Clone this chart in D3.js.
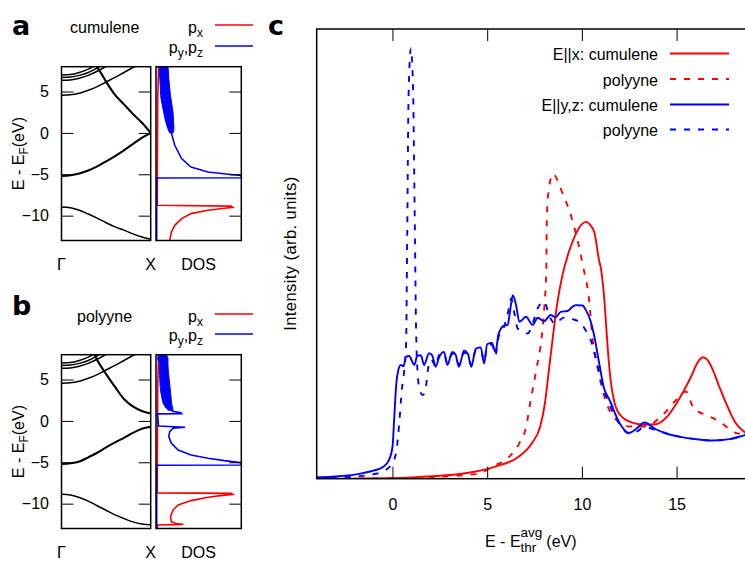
<!DOCTYPE html>
<html>
<head>
<meta charset="utf-8">
<script src="https://cdn.jsdelivr.net/npm/d3@7"></script>
<style>
  body { margin: 0; background: #fff; }
  text { font-family: "Liberation Sans", Arial, sans-serif; fill: #000; }
</style>
</head>
<body>
<svg width="745" height="561"></svg>
<script>
// ---- band structures: [k (Gamma=0 .. X=1), E - EF]
const cumuleneSigma = [[0,-8.95],[.1,-9.05],[.2,-9.35],[.3,-9.8],[.4,-10.3],[.5,-10.85],[.6,-11.35],[.7,-11.75],[.8,-12.2],[.9,-12.58],[1,-12.85]];
const cumulenePi = [[0,-5.2],[.1,-5.12],[.2,-4.9],[.3,-4.55],[.4,-4.05],[.5,-3.45],[.6,-2.8],[.7,-2.1],[.8,-1.35],[.9,-0.6],[1,0]];
const cumulenePiStar = [[.38,8.3],[.4,7.95],[.45,7.1],[.5,6.2],[.6,4.6],[.7,3.45],[.8,2.3],[.9,1.25],[1,0]];
const cumuleneUpper = [
  [[0,4.55],[.1,4.6],[.2,4.8],[.3,5.15],[.4,5.6],[.5,6.15],[.6,6.7],[.7,7.3],[.8,7.9],[.85,8.2]],
  [[0,6.35],[.1,6.4],[.2,6.6],[.3,6.95],[.4,7.45],[.5,8.05],[.55,8.4]],
  [[0,6.7],[.1,6.75],[.2,6.95],[.3,7.3],[.4,7.85],[.45,8.2]],
  [[0,7.0],[.1,7.05],[.2,7.3],[.3,7.7],[.37,8.1]]
];
const polyyneSigma = [[0,-8.85],[.1,-8.95],[.2,-9.25],[.3,-9.7],[.4,-10.25],[.5,-10.8],[.6,-11.35],[.7,-11.8],[.8,-12.2],[.9,-12.45],[1,-12.55]];
const polyynePi = [[0,-5.2],[.1,-5.12],[.2,-4.9],[.3,-4.4],[.4,-3.85],[.5,-3.2],[.6,-2.6],[.7,-2.05],[.8,-1.45],[.9,-0.95],[1,-0.7]];
const polyynePiStar = [[.34,8.4],[.37,8.0],[.4,7.35],[.5,5.65],[.6,4.1],[.7,2.65],[.8,1.75],[.9,1.2],[1,0.9]];
const polyyneUpper = cumuleneUpper;

// ---- projected DOS: [E, DOS]
const cumuleneDosPx = [[8,0.03],[4,0.02],[-8.75,0.015],[-8.85,0.88],[-9.0,0.9],[-9.1,0.8],[-9.35,0.61],[-9.75,0.41],[-10.36,0.3],[-11.17,0.22],[-11.97,0.18],[-13,0.16]];
const cumuleneDosPyz = [[-13,0.008],[-5.45,0.008],[-5.42,1.0],[-5.15,1.0],[-5.0,0.85],[-4.72,0.61],[-4.12,0.41],[-3.1,0.3],[-1.5,0.22],[0,0.18]];
const cumuleneDosPyzBand = [[0,0.16,0.2],[0.5,0.14,0.21],[1.5,0.11,0.205],[2.5,0.09,0.2],[3.5,0.07,0.185],[4.5,0.055,0.17],[5.5,0.05,0.16],[6.5,0.045,0.15],[7.5,0.04,0.145],[8,0.04,0.14]];
const polyyneDosPx = [[8,0.03],[4,0.02],[-8.7,0.015],[-8.75,0.88],[-8.88,0.9],[-9.0,0.78],[-9.23,0.61],[-9.63,0.41],[-10.16,0.26],[-10.76,0.2],[-11.57,0.17],[-12.17,0.18],[-12.4,0.23],[-12.5,0.32],[-12.58,0.02],[-13,0.015]];
const polyyneDosPyz = [[-13,0.008],[-5.35,0.008],[-5.32,1.0],[-5.04,1.0],[-4.8,0.8],[-4.52,0.61],[-4.12,0.41],[-3.51,0.26],[-2.7,0.18],[-1.9,0.15],[-1.29,0.16],[-0.89,0.2],[-0.77,0.34],[-0.62,0.03],[0.85,0.015],[0.88,0.3],[1.0,0.29],[1.15,0.2],[1.3,0.17]];
const polyyneDosPyzBand = [[1.3,0.14,0.2],[2,0.09,0.185],[3,0.065,0.175],[4,0.05,0.165],[5,0.045,0.155],[6,0.04,0.145],[7,0.04,0.14],[7.5,0.02,0.14],[8,0.03,0.12]];

// ---- absorption spectra: [E - Ethr, intensity]
const specXCumulene = [[-4,0],[0,0.1],[1.9,0.5],[3.84,1.2],[5.43,2.7],[6.66,4.9],[7.36,7.9],[7.8,11.6],[8.05,16.8],[8.26,24.2],[8.47,31.6],[8.7,39],[8.96,45],[9.35,50.9],[9.7,54.6],[10.0,56.6],[10.23,57.1],[10.45,56.4],[10.67,54.6],[10.9,48.7],[11.02,46.4],[11.2,39],[11.32,31.6],[11.46,24.2],[11.73,16.8],[12.08,13.9],[12.7,12.4],[13.3,12],[13.9,12.1],[14.5,13.8],[15,16.8],[15.5,20.5],[15.8,23],[16.1,25.8],[16.4,27],[16.65,26.3],[16.9,24.3],[17.25,20.5],[17.6,16.9],[18.1,12.5],[18.6,10.3],[19.3,8.3],[20,7]];
const specXPolyyne = [[-4,0],[0,0.1],[2,0.3],[3.5,0.7],[4.59,1.2],[5.29,2.7],[6.17,4.9],[6.7,7.9],[7.06,11.6],[7.27,16.8],[7.59,24.2],[7.88,31.6],[8.03,39],[8.12,46.4],[8.15,58.3],[8.25,64.2],[8.47,67.8],[8.7,66.5],[8.91,64.2],[9.44,58.3],[10.05,47.5],[10.4,39],[10.55,31.6],[10.85,24.2],[11.3,16.8],[11.65,13.9],[12.5,11.6],[13.3,11.6],[14.2,13.9],[15,17.6],[15.5,19.4],[15.9,15.6],[16.6,14.1],[17.3,12.6],[18,10.4],[18.6,9.7],[19.3,8.5],[20,7.5]];
const specYZCumulene = [[-4,0.3],[-3,0.5],[-2,0.9],[-1.5,1.3],[-1,1.8],[-0.5,2.6],[-0.2,4.0],[0,7],[0.1,14],[0.2,21],[0.3,24],[0.44,25.3],[0.58,25],[0.71,27.1],[0.88,27.3],[1.15,25.3],[1.32,27.4],[1.5,27.4],[1.67,25.3],[1.93,27.9],[2.1,27.4],[2.28,24.9],[2.46,27],[2.72,28.2],[2.9,25.3],[3.16,28.2],[3.33,27.6],[3.51,24.9],[3.78,28.5],[3.98,27.8],[4.16,24.9],[4.4,28.9],[4.66,29.2],[4.84,25.6],[5.0,29.9],[5.25,30.2],[5.44,28.2],[5.6,32.2],[5.87,34],[6.08,34.2],[6.2,37],[6.35,40.8],[6.52,38.7],[6.7,34.9],[7.05,36],[7.4,34.2],[7.67,35.8],[8.0,35],[8.35,36.4],[8.62,35.9],[8.88,37.1],[9.24,37.3],[9.5,38.2],[9.68,38.6],[10.03,38.5],[10.2,37.6],[10.47,34.9],[10.64,32],[10.9,26],[11.17,20.1],[11.46,17.5],[12.0,12.3],[12.5,10.2],[12.9,11.2],[13.3,12.5],[13.9,11],[14.5,10],[15.2,9.3],[16,8.8],[16.9,8.5],[17.8,8.8],[18.6,9.7],[20,11]];
const specYZPolyyne = [[-4,0.2],[-2,0.5],[-1,1.0],[-0.5,1.6],[0,3.5],[0.2,6],[0.35,12],[0.5,20],[0.62,24],[0.72,30],[0.78,55],[0.85,85],[0.97,95.7],[1.08,88],[1.17,60],[1.24,35],[1.32,24],[1.45,19.5],[1.6,18.6],[1.75,20],[1.9,25],[2.05,26.5],[2.28,25],[2.46,27.5],[2.72,27.8],[2.9,25.6],[3.16,27.8],[3.35,27],[3.51,25.3],[3.78,28],[3.98,27.5],[4.16,25.3],[4.4,28.5],[4.66,28.6],[4.84,26],[5.0,29.5],[5.25,29.8],[5.44,27.5],[5.6,31.5],[5.87,33.5],[6.1,37],[6.26,40],[6.45,36.5],[6.61,33.4],[6.9,32.8],[7.14,32.3],[7.4,34.5],[7.67,37.9],[8.0,39.4],[8.3,36],[8.62,34.4],[8.9,35.5],[9.15,35.9],[9.5,35.5],[9.77,35.1],[10.0,34.3],[10.2,33],[10.56,29.7],[10.82,25.3],[11.1,20.5],[11.4,17],[11.9,12.8],[12.5,10],[12.9,10.5],[13.3,11.5],[13.9,10.8],[14.5,10],[15.2,9.3],[16,8.8],[16.9,8.5],[17.8,8.8],[18.6,9.7],[20,11]];

const energyTicks = [-10, -5, 0, 5];
const spectrumTicks = [0, 5, 10, 15];
const legendLabels = ['E||x: cumulene', 'polyyne', 'E||y,z: cumulene', 'polyyne'];

(function() {
	const svg = d3.select('svg');
	const RED = '#ff0000';
	const BLUE = '#0000ff';

	// ----- panels a and b
	const bandLeft = 61.5, bandRight = 150.7, dosLeft = 156, dosRight = 241.3;
	const panelH = 173.8;

	function drawBandPanel(top, id, bands, thickBands, dosPx, dosPyz, dosBand) {
		const g = svg.append('g');
		const y = d3.scaleLinear().domain([-13, 8]).range([top + panelH, top]);
		const k = d3.scaleLinear().domain([0, 1]).range([bandLeft, bandRight]);
		const dos = d3.scaleLinear().domain([0, 1]).range([dosLeft, dosRight]);

		svg.append('clipPath').attr('id', 'band' + id)
			.append('rect').attr('x', bandLeft).attr('y', top).attr('width', bandRight - bandLeft).attr('height', panelH);
		svg.append('clipPath').attr('id', 'dos' + id)
			.append('rect').attr('x', dosLeft).attr('y', top).attr('width', dosRight - dosLeft + 4).attr('height', panelH);

		const bandLine = d3.line().x(d => k(d[0])).y(d => y(d[1])).curve(d3.curveMonotoneX);
		const bg = g.append('g').attr('clip-path', `url(#band${id})`);
		bg.selectAll('path.thin').data(bands).join('path')
			.attr('d', bandLine).attr('fill', 'none').attr('stroke', '#000').attr('stroke-width', 1.5);
		bg.selectAll('path.thick').data(thickBands).join('path')
			.attr('d', bandLine).attr('fill', 'none').attr('stroke', '#000').attr('stroke-width', 2.1);

		const dg = g.append('g').attr('clip-path', `url(#dos${id})`);
		const dosLine = d3.line().x(d => dos(d[1])).y(d => y(d[0]));
		dg.append('path').attr('d', dosLine(dosPx)).attr('fill', 'none').attr('stroke', RED).attr('stroke-width', 1.6);
		dg.append('path').attr('d', dosLine(dosPyz)).attr('fill', 'none').attr('stroke', BLUE).attr('stroke-width', 1.6);
		dg.append('path')
			.attr('d', d3.area().y(d => y(d[0])).x0(d => dos(d[1])).x1(d => dos(d[2])).curve(d3.curveMonotoneY)(dosBand))
			.attr('fill', BLUE).attr('stroke', BLUE).attr('stroke-width', 1);

		// frames
		g.append('rect').attr('x', bandLeft).attr('y', top).attr('width', bandRight - bandLeft).attr('height', panelH)
			.attr('fill', 'none').attr('stroke', '#000').attr('stroke-width', 1.5);
		g.append('rect').attr('x', dosLeft).attr('y', top).attr('width', dosRight - dosLeft).attr('height', panelH)
			.attr('fill', 'none').attr('stroke', '#000').attr('stroke-width', 1.5);

		// ticks
		g.append('g').attr('transform', `translate(${bandLeft},0)`)
			.call(d3.axisLeft(y).tickValues(energyTicks).tickSize(-12).tickPadding(12.5))
			.call(a => a.select('.domain').remove())
			.call(a => a.selectAll('text').style('font-size', '16px').style('font-family', '"Liberation Sans", Arial, sans-serif'));
		g.append('g').attr('transform', `translate(${bandRight},0)`)
			.call(d3.axisRight(y).tickValues(energyTicks).tickSize(-12).tickFormat(''))
			.call(a => a.select('.domain').remove());
		g.append('g').attr('transform', `translate(${dosRight},0)`)
			.call(d3.axisRight(y).tickValues(energyTicks).tickSize(-12).tickFormat(''))
			.call(a => a.select('.domain').remove());

		// y label
		const yl = g.append('text')
			.attr('transform', `translate(24,${top + panelH / 2}) rotate(-90)`)
			.attr('text-anchor', 'middle').style('font-size', '16px');
		yl.append('tspan').text('E - E');
		yl.append('tspan').attr('dy', 4).style('font-size', '12px').text('F');
		yl.append('tspan').attr('dy', -4).text('(eV)');

		// k labels
		const kb = top + 203;
		g.append('text').attr('x', bandLeft).attr('y', kb).attr('text-anchor', 'middle').style('font-size', '16px').text('Γ');
		g.append('text').attr('x', bandRight).attr('y', kb).attr('text-anchor', 'middle').style('font-size', '16px').text('X');
		g.append('text').attr('x', (dosLeft + dosRight) / 2).attr('y', kb).attr('text-anchor', 'middle').style('font-size', '16px').text('DOS');
		return g;
	}

	function drawDosLegend(g, yPx, yPyz) {
		const t1 = g.append('text').attr('x', 203).attr('y', yPx).attr('text-anchor', 'end').style('font-size', '16px');
		t1.append('tspan').text('p');
		t1.append('tspan').attr('dy', 4).style('font-size', '12px').text('x');
		g.append('line').attr('x1', 215).attr('x2', 253).attr('y1', yPx - 8).attr('y2', yPx - 8)
			.attr('stroke', RED).attr('stroke-width', 1.6);
		const t2 = g.append('text').attr('x', 203).attr('y', yPyz).attr('text-anchor', 'end').style('font-size', '16px');
		t2.append('tspan').text('p');
		t2.append('tspan').attr('dy', 4).style('font-size', '12px').text('y');
		t2.append('tspan').attr('dy', -4).text(',p');
		t2.append('tspan').attr('dy', 4).style('font-size', '12px').text('z');
		g.append('line').attr('x1', 215).attr('x2', 253).attr('y1', yPyz - 7).attr('y2', yPyz - 7)
			.attr('stroke', BLUE).attr('stroke-width', 1.6);
	}

	const ga = drawBandPanel(66.7, 'a', [cumuleneSigma].concat(cumuleneUpper), [cumulenePi, cumulenePiStar],
		cumuleneDosPx, cumuleneDosPyz, cumuleneDosPyzBand);
	ga.append('text').attr('x', 12).attr('y', 35).style('font-family', '"DejaVu Sans", sans-serif')
		.style('font-weight', 'bold').style('font-size', '27px').text('a');
	ga.append('text').attr('x', 70).attr('y', 33).style('font-size', '16px').text('cumulene');
	drawDosLegend(ga, 33, 53);

	const gb = drawBandPanel(354.7, 'b', [polyyneSigma].concat(polyyneUpper), [polyynePi, polyynePiStar],
		polyyneDosPx, polyyneDosPyz, polyyneDosPyzBand);
	gb.append('text').attr('x', 12).attr('y', 315).style('font-family', '"DejaVu Sans", sans-serif')
		.style('font-weight', 'bold').style('font-size', '27px').text('b');
	gb.append('text').attr('x', 77).attr('y', 322).style('font-size', '16px').text('polyyne');
	drawDosLegend(gb, 322, 341);

	// ----- panel c
	const cLeft = 316.7, cRight = 771.3, cTop = 29, cBottom = 478.7;
	const gc = svg.append('g');
	const x = d3.scaleLinear().domain([-4, 20]).range([cLeft, cRight]);
	const yc = d3.scaleLinear().domain([0, 100]).range([cBottom, cTop]);

	svg.append('clipPath').attr('id', 'specClip')
		.append('rect').attr('x', cLeft).attr('y', cTop).attr('width', cRight - cLeft).attr('height', cBottom - cTop);

	const specLine = d3.line().x(d => x(d[0])).y(d => yc(d[1])).curve(d3.curveMonotoneX);
	const series = [
		{ data: specXCumulene, color: RED, dash: null },
		{ data: specXPolyyne, color: RED, dash: '6,8' },
		{ data: specYZCumulene, color: BLUE, dash: null },
		{ data: specYZPolyyne, color: BLUE, dash: '6,8' }
	];
	gc.append('g').attr('clip-path', 'url(#specClip)')
		.selectAll('path').data(series).join('path')
		.attr('d', d => specLine(d.data))
		.attr('fill', 'none')
		.attr('stroke', d => d.color)
		.attr('stroke-width', 1.9)
		.attr('stroke-dasharray', d => d.dash);

	gc.append('rect').attr('x', cLeft).attr('y', cTop).attr('width', cRight - cLeft).attr('height', cBottom - cTop)
		.attr('fill', 'none').attr('stroke', '#000').attr('stroke-width', 1.5);

	gc.append('g').attr('transform', `translate(0,${cBottom})`)
		.call(d3.axisBottom(x).tickValues(spectrumTicks).tickSize(-12).tickPadding(20))
		.call(a => a.select('.domain').remove())
		.call(a => a.selectAll('text').style('font-size', '16px').style('font-family', '"Liberation Sans", Arial, sans-serif'));
	gc.append('g').attr('transform', `translate(0,${cTop})`)
		.call(d3.axisTop(x).tickValues(spectrumTicks).tickSize(-12).tickFormat(''))
		.call(a => a.select('.domain').remove());

	// axis labels
	gc.append('text')
		.attr('transform', `translate(296,${(cTop + cBottom) / 2}) rotate(-90)`)
		.attr('text-anchor', 'middle').style('font-size', '16.5px')
		.attr('textLength', 154).attr('lengthAdjust', 'spacing')
		.text('Intensity (arb. units)');

	const xl = gc.append('text').attr('x', 485).attr('y', 547).style('font-size', '16px');
	xl.append('tspan').text('E - E');
	const sup = xl.append('tspan').attr('dy', -10.5).style('font-size', '13.5px').text('avg');
	const supW = sup.node().getComputedTextLength();
	const sub = xl.append('tspan').attr('dx', -supW).attr('dy', 15).style('font-size', '13.5px').text('thr');
	const subW = sub.node().getComputedTextLength();
	xl.append('tspan').attr('dx', Math.max(supW - subW, 0) + 4).attr('dy', -4.5).text('(eV)');

	// legend
	const legY = [53.5, 79, 104.5, 129.5];
	const leg = gc.append('g');
	leg.selectAll('text').data(series).join('text')
		.attr('x', 658).attr('y', (d, i) => legY[i] + 6.5)
		.attr('text-anchor', 'end').style('font-size', '16px')
		.text((d, i) => legendLabels[i]);
	leg.selectAll('line').data(series).join('line')
		.attr('x1', 670).attr('x2', 729)
		.attr('y1', (d, i) => legY[i]).attr('y2', (d, i) => legY[i])
		.attr('stroke', d => d.color).attr('stroke-width', 1.9)
		.attr('stroke-dasharray', d => d.dash);

	gc.append('text').attr('x', 268).attr('y', 35).style('font-family', '"DejaVu Sans", sans-serif')
		.style('font-weight', 'bold').style('font-size', '27px').text('c');
})();
</script>
</body>
</html>
